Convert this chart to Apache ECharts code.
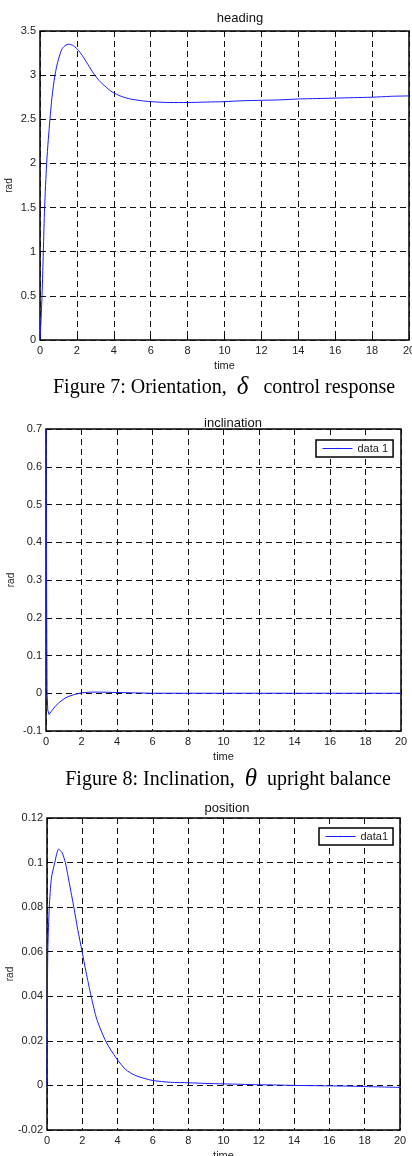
<!DOCTYPE html>
<html>
<head>
<meta charset="utf-8">
<script src="https://cdn.jsdelivr.net/npm/echarts@6/dist/echarts.min.js"></script>
<style>
  html, body { margin: 0; padding: 0; background: #fff; }
  #main { width: 412px; height: 1156px; }
</style>
</head>
<body>
<div id="main"></div>
<script>
// heading response
var headingT = [0, 0.05, 0.11, 0.18, 0.25, 0.36, 0.45, 0.54, 0.65, 0.81, 1.0, 1.2, 1.4, 1.55, 1.75, 2.0, 2.3, 2.6, 2.9, 3.2, 3.5, 3.9, 4.4, 4.9, 5.5, 6, 7, 8, 9, 10, 11, 12, 13, 14, 15, 16, 17, 18, 19, 20];
var headingV = [0, 0.2, 0.5, 1.0, 1.5, 2.0, 2.27, 2.5, 2.75, 3.0, 3.18, 3.30, 3.34, 3.35, 3.34, 3.30, 3.22, 3.12, 3.02, 2.94, 2.88, 2.81, 2.76, 2.73, 2.71, 2.70, 2.69, 2.69, 2.695, 2.70, 2.71, 2.715, 2.72, 2.73, 2.735, 2.74, 2.745, 2.75, 2.76, 2.765];

// inclination response
var inclT = [0, 0.03, 0.06, 0.1, 0.17, 0.3, 0.5, 0.75, 1.07, 1.35, 1.63, 2.0, 2.5, 3, 4, 5, 6, 8, 10, 12, 14, 16, 18, 20];
var inclV = [0.7, 0.3, 0.0, -0.045, -0.056, -0.048, -0.036, -0.024, -0.013, -0.007, -0.003, 0.001, 0.003, 0.003, 0.002, 0.001, 0, 0, 0, 0, 0, 0, 0, 0];

// position response
var posT = [0, 0.02, 0.05, 0.13, 0.25, 0.44, 0.66, 0.85, 1.04, 1.27, 1.52, 1.74, 1.99, 2.21, 2.5, 2.83, 3.35, 3.92, 4.46, 5.0, 5.5, 6, 7, 8, 9, 10, 11, 12, 13, 14, 15, 16, 17, 18, 19, 20];
var posV = [0, 0.04, 0.062, 0.08, 0.093, 0.1, 0.106, 0.1045, 0.1, 0.0905, 0.08, 0.07, 0.06, 0.051, 0.04, 0.0295, 0.0195, 0.0123, 0.0071, 0.0045, 0.0032, 0.0022, 0.0014, 0.0012, 0.0009, 0.0007, 0.0005, 0.0003, 0.0002, 0.0, -0.0001, -0.0002, -0.0003, -0.0005, -0.0007, -0.0009];

function pairs(t, v) {
  var out = [];
  for (var i = 0; i < t.length; i++) out.push([t[i], v[i]]);
  return out;
}

var FONT = 'Liberation Sans';
var BLUE = '#1a1aff';
var dash = { show: true, lineStyle: { color: '#111', type: [6, 4], width: 1 } };

function xAxisFor(idx) {
  return {
    gridIndex: idx, type: 'value', min: 0, max: 20, interval: 2,
    name: 'time', nameLocation: 'middle', nameGap: 20, nameMoveOverlap: false,
    nameTextStyle: { fontFamily: FONT, fontSize: 11, color: '#222' },
    axisLine: { show: false },
    axisTick: { show: true, inside: true, length: 4, lineStyle: { color: '#000' } },
    axisLabel: { fontFamily: FONT, fontSize: 11, color: '#222', margin: 5 },
    splitLine: dash
  };
}
function yAxisFor(idx, min, max, step, gap) {
  return {
    gridIndex: idx, type: 'value', min: min, max: max, interval: step,
    name: 'rad', nameLocation: 'middle', nameGap: gap, nameRotate: 90, nameMoveOverlap: false,
    nameTextStyle: { fontFamily: FONT, fontSize: 10, color: '#222' },
    axisLine: { show: false },
    axisTick: { show: true, inside: true, length: 4, lineStyle: { color: '#000' } },
    axisLabel: { fontFamily: FONT, fontSize: 11, color: '#222', margin: 4 },
    splitLine: dash
  };
}

var gridBox = { show: true, borderColor: '#000', borderWidth: 1.5, backgroundColor: '#fff', outerBoundsMode: 'none', containLabel: false };

function titleFor(text, cx, top) {
  return { text: text, left: cx, top: top, textAlign: 'center',
    textStyle: { fontFamily: FONT, fontSize: 13, fontWeight: 'normal', color: '#111' } };
}
function captionFor(a, g, b, cx, top) {
  return {
    text: '{a|' + a + '}{g|' + g + '}{a|' + b + '}', left: cx, top: top, textAlign: 'center',
    textStyle: {
      fontWeight: 'normal',
      rich: {
        a: { fontFamily: 'Liberation Serif', fontSize: 20, fontWeight: 'normal', color: '#000' },
        g: { fontFamily: 'Liberation Serif', fontSize: 25, fontWeight: 'normal', fontStyle: 'italic', color: '#000' }
      }
    }
  };
}

function lineSeries(name, idx, t, v, smooth) {
  return {
    name: name, type: 'line', xAxisIndex: idx, yAxisIndex: idx, symbol: 'none',
    smooth: smooth,
    lineStyle: { color: BLUE, width: 1 }, itemStyle: { color: BLUE },
    data: pairs(t, v)
  };
}

function legendFor(name, left, top) {
  return {
    data: [name], left: left, top: top, orient: 'vertical',
    itemWidth: 30, itemHeight: 2, itemGap: 4, padding: [3, 5, 3, 6],
    borderColor: '#000', borderWidth: 1.5, backgroundColor: '#fff',
    lineStyle: { width: 1 },
    textStyle: { fontFamily: FONT, fontSize: 11, color: '#222' }
  };
}

var myChart = echarts.init(document.getElementById('main'));
var option = {
  animation: false,
  title: [
    titleFor('heading', 235, 7),
    titleFor('inclination', 228, 412),
    titleFor('position', 222, 797),
    captionFor('Figure 7: Orientation,  ', 'δ', '   control response', 219, 370),
    captionFor('Figure 8: Inclination,  ', 'θ', '  upright balance', 223, 762)
  ],
  grid: [
    Object.assign({ left: 40, top: 31, width: 369, height: 309 }, gridBox),
    Object.assign({ left: 46, top: 429, width: 355, height: 302 }, gridBox),
    Object.assign({ left: 47, top: 818, width: 353, height: 312 }, gridBox)
  ],
  xAxis: [xAxisFor(0), xAxisFor(1), xAxisFor(2)],
  yAxis: [
    yAxisFor(0, 0, 3.5, 0.5, 26),
    yAxisFor(1, -0.1, 0.7, 0.1, 30),
    yAxisFor(2, -0.02, 0.12, 0.02, 32)
  ],
  legend: [legendFor('data 1', 316, 440), legendFor('data1', 319, 828)],
  series: [
    lineSeries('heading', 0, headingT, headingV, 0.25),
    lineSeries('data 1', 1, inclT, inclV, false),
    lineSeries('data1', 2, posT, posV, 0.25)
  ]
};
myChart.setOption(option);
</script>
</body>
</html>
